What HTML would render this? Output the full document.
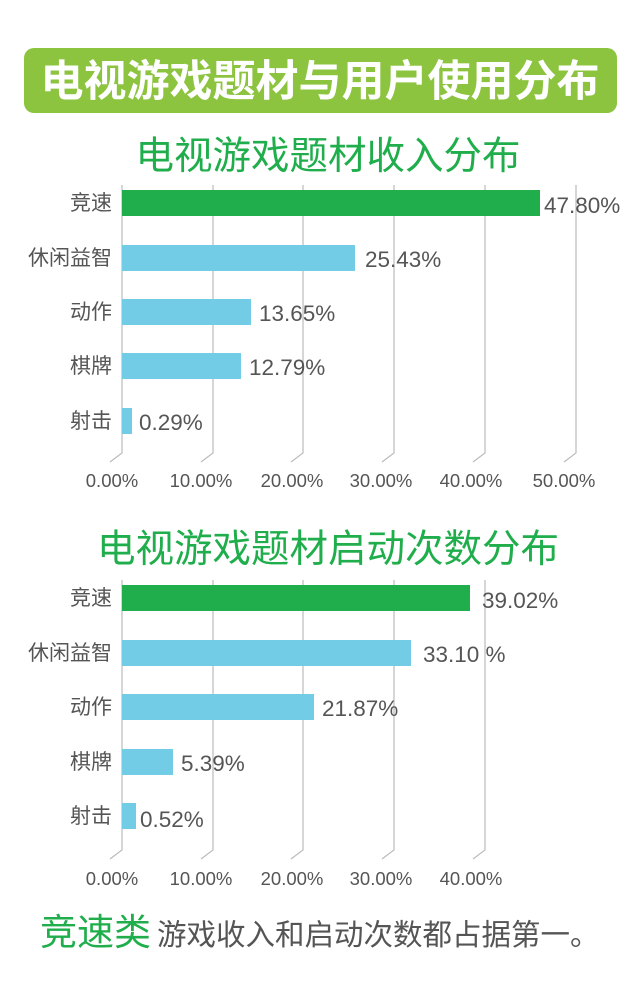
<!DOCTYPE html>
<html><head><meta charset="utf-8"><style>
body{margin:0;width:640px;height:1000px;background:#fff;overflow:hidden;font-family:"Liberation Sans","Noto Sans CJK SC",sans-serif}
</style></head><body>
<svg width="640" height="1000" xmlns="http://www.w3.org/2000/svg" font-family="Liberation Sans, Noto Sans CJK SC, sans-serif">
<rect x="24" y="48" width="593" height="65" rx="10" fill="#8dc43f"/>
<text x="320" y="96" text-anchor="middle" font-size="43" font-weight="bold" fill="#fff">电视游戏题材与用户使用分布</text>
<text x="328" y="169" text-anchor="middle" font-size="38.5" fill="#1fae4b">电视游戏题材收入分布</text>
<g stroke="#bbb" stroke-width="1.2" fill="none">
<path d="M122 185V453l-12 9"/><path d="M213 185V453l-12 9"/><path d="M303 185V453l-12 9"/><path d="M394 185V453l-12 9"/><path d="M485 185V453l-12 9"/><path d="M576 185V453l-12 9"/>
</g>
<g fill="#72cce6"><rect x="122" y="245" width="233" height="26"/><rect x="122" y="299" width="129" height="26"/><rect x="122" y="353" width="119" height="26"/><rect x="122" y="408" width="10" height="26"/></g>
<rect x="122" y="190" width="418" height="26" fill="#1fae4b"/>
<g font-size="21" fill="#555" text-anchor="end">
<text x="112" y="210">竞速</text><text x="112" y="265">休闲益智</text><text x="112" y="319">动作</text><text x="112" y="373">棋牌</text><text x="112" y="428">射击</text></g>
<g font-size="22.5" fill="#555">
<text x="544" y="213">47.80%</text><text x="365" y="267">25.43%</text><text x="259" y="321">13.65%</text><text x="249" y="375">12.79%</text><text x="139" y="430">0.29%</text></g>
<g font-size="18.5" fill="#555" text-anchor="middle">
<text x="112" y="487">0.00%</text><text x="201" y="487">10.00%</text><text x="292" y="487">20.00%</text><text x="381" y="487">30.00%</text><text x="471" y="487">40.00%</text><text x="564" y="487">50.00%</text></g>

<text x="328" y="562" text-anchor="middle" font-size="38.5" fill="#1fae4b">电视游戏题材启动次数分布</text>
<g stroke="#bbb" stroke-width="1.2" fill="none">
<path d="M122 580V850l-12 9"/><path d="M213 580V850l-12 9"/><path d="M303 580V850l-12 9"/><path d="M394 580V850l-12 9"/><path d="M485 580V850l-12 9"/>
</g>
<g fill="#72cce6"><rect x="122" y="640" width="289" height="26"/><rect x="122" y="694" width="192" height="26"/><rect x="122" y="749" width="51" height="26"/><rect x="122" y="803" width="14" height="26"/></g>
<rect x="122" y="585" width="348" height="26" fill="#1fae4b"/>
<g font-size="21" fill="#555" text-anchor="end">
<text x="112" y="605">竞速</text><text x="112" y="660">休闲益智</text><text x="112" y="714">动作</text><text x="112" y="769">棋牌</text><text x="112" y="823">射击</text></g>
<g font-size="22.5" fill="#555">
<text x="482" y="608">39.02%</text><text x="423" y="662">33.10 %</text><text x="322" y="716">21.87%</text><text x="181" y="771">5.39%</text><text x="140" y="827">0.52%</text></g>
<g font-size="18.5" fill="#555" text-anchor="middle">
<text x="112" y="885">0.00%</text><text x="201" y="885">10.00%</text><text x="292" y="885">20.00%</text><text x="381" y="885">30.00%</text><text x="471" y="885">40.00%</text></g>

<text x="40" y="945" font-size="37" fill="#1fae4b">竞速类</text>
<text x="157" y="945" font-size="29.5" fill="#555">游戏收入和启动次数都占据第一。</text>
</svg>
</body></html>
